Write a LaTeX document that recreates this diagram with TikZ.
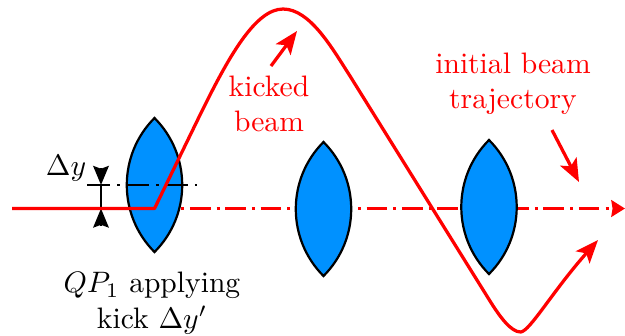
\documentclass[tikz,border=0pt]{standalone}
\usetikzlibrary{arrows.meta}
\definecolor{lensblue}{RGB}{0,145,255}
\tikzset{
  lensshape/.style={draw=black,fill=lensblue,line width=0.75pt},
  redtext/.style={text=red,align=center,inner sep=0pt,font=\normalsize},
  beam/.style={draw=red,line width=1.1pt,line join=round},
  redtip/.style={-{Stealth[length=7.8pt,width=6.2pt,inset=1.8pt]}},
  axistip/.style={-{Stealth[length=4.6pt,width=5.6pt,inset=0.4pt]}},
  axisred/.style={draw=red,line width=1pt,dash pattern=on 7pt off 2.05pt on 1pt off 1.9pt},
  axisblack/.style={draw=black,line width=1pt,dash pattern=on 7.77pt off 2.37pt on 1.01pt off 2.03pt},
  dimline/.style={draw=black,line width=1pt},
  blacktip/.style={-{Stealth[length=6.4pt,width=5.2pt,inset=0.9pt]}},
}
\begin{document}
\begin{tikzpicture}[x=0.338pt,y=-0.338pt]
\useasboundingbox (0,0) rectangle (625,335);
\coordinate (start) at (12,208.5);
\coordinate (kick) at (154.5,208.5);
\coordinate (axisend) at (625,208.5);
\coordinate (offL) at (87,185);
\coordinate (offR) at (197,185);
\coordinate (dimT) at (101,168);
\coordinate (dimTt) at (101,185);
\coordinate (dimB) at (101,226);
\coordinate (dimBt) at (101,208.5);
\coordinate (dimA) at (101,185);
\coordinate (L1t) at (154.5,118);
\coordinate (L1b) at (154.5,252);
\coordinate (L2t) at (323.5,142);
\coordinate (L2b) at (323.5,276);
\coordinate (L3t) at (489,140);
\coordinate (L3b) at (489,274);
\coordinate (kA) at (271,66);
\coordinate (kB) at (297,31);
\coordinate (iA) at (552,130);
\coordinate (iB) at (579,182);
\coordinate (beamend) at (598,240);
% axis
\draw[axisred,axistip] (kick) -- (axisend);
% lenses
\draw[lensshape] (L1t) to[bend left=45] (L1b) to[bend left=45] (L1t) -- cycle;
\draw[lensshape] (L2t) to[bend left=45] (L2b) to[bend left=45] (L2t) -- cycle;
\draw[lensshape] (L3t) to[bend left=45] (L3b) to[bend left=45] (L3t) -- cycle;
% offset
\draw[axisblack] (offL) -- (offR);
\draw[dimline] (dimA) -- (dimBt);
\draw[dimline,blacktip] (dimT) -- (dimTt);
\draw[dimline,blacktip] (dimB) -- (dimBt);
% beam
\draw[beam,line width=1.3pt] (start) -- (kick);
\draw[beam,redtip] (start) -- (kick) -- (200,115)
  .. controls (228,58) and (255,9) .. (283,9)
  .. controls (310,9) and (332,48) .. (350,76)
  -- (490,301)
  .. controls (500,317) and (511,332) .. (520.7,332)
  .. controls (530,331) and (552,292) .. (beamend);
\draw[beam,redtip] (kA) -- (kB);
\draw[beam,redtip] (iA) -- (iB);
% labels
\node[inner sep=0pt] (dy) at (66,168) {$\Delta y$};
\node[redtext] (kicked) at (269,104) {kicked\\beam};
\node[redtext] (initial) at (513,84) {initial beam\\trajectory};
\node[align=center,inner sep=0pt] (qp) at (152,303) {$QP_1$ applying\\kick $\Delta y'$};
\end{tikzpicture}
\end{document}
